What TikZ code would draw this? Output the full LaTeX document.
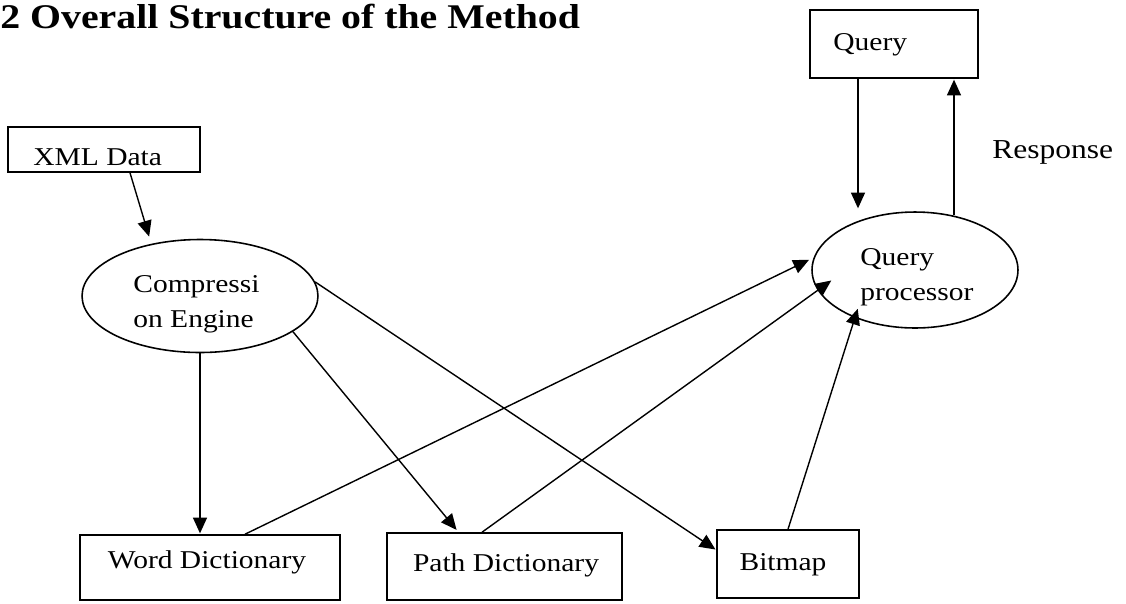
\documentclass[tikz,border=0pt]{standalone}
\usepackage{fontspec}
\setmainfont{Liberation Serif}[FakeStretch=1.15]
\usetikzlibrary{arrows.meta,calc,shapes.geometric}

\begin{document}
\begin{tikzpicture}[x=0.02cm,y=-0.02cm,
  every node/.style={font=\fontsize{14.6}{19.9}\selectfont},
  box/.style={draw,line width=0.9pt,rectangle,inner sep=0pt},
  oval/.style={draw,line width=0.9pt,ellipse,inner sep=0pt},
  txt/.style={inner sep=0pt,anchor=base west},
  ctxt/.style={inner sep=0pt,anchor=base},
  arr/.style={line width=0.8pt,-{Triangle[length=9pt,width=8pt]},shorten >=0.5pt}]
\useasboundingbox (0,0) rectangle (1126,603);

% heading
\node[txt,font=\fontsize{19.7}{24}\selectfont\bfseries] (title) at (0,28) {2 Overall Structure of the Method};

% boxes
\node[box,minimum width=3.84cm,minimum height=0.9cm] (xml) at (104,149.5) {};
\node[box,minimum width=3.36cm,minimum height=1.36cm] (qb) at (894,44) {};
\node[box,minimum width=5.2cm,minimum height=1.3cm] (wd) at (210,567.5) {};
\node[box,minimum width=4.7cm,minimum height=1.34cm] (pd) at (504.5,566.5) {};
\node[box,minimum width=2.84cm,minimum height=1.36cm] (bm) at (788,564) {};

% ellipses
\node[oval,minimum width=4.72cm,minimum height=2.26cm] (ce) at (200,296) {};
\node[oval,minimum width=4.12cm,minimum height=2.32cm] (qp) at (915,270) {};

% labels
\node[txt] (xmlt) at (33,165) {XML Data};
\node[txt] (qbt) at (833,50) {Query};
\node[txt,font=\fontsize{15.6}{19.9}\selectfont] (resp) at (992,158) {Response};
\node[txt] (qpt1) at (860,265) {Query};
\node[txt] (qpt2) at (860,300) {processor};
\node[txt] (cet1) at (133,292) {Compressi};
\node[txt] (cet2) at (133,327) {on Engine};
\node[ctxt] (wdt) at (207,568) {Word Dictionary};
\node[ctxt] (pdt) at (506,571) {Path Dictionary};
\node[ctxt] (bmt) at (783,570) {Bitmap};

% connectors
\draw[arr,shorten >=0.15cm] ($(xml.south)+(26,0)$) -- (ce.133);
\draw[arr] (ce.south) -- (ce.south |- wd.north);
\draw[arr,shorten >=0.06cm] (ce.339) -- ($(pd.north)+(-46,0)$);
\draw[arr] (ce.7) -- ($(bm.west)+(0,-14)$);
\draw[arr,shorten >=0.1cm] ($(wd.north)+(35,0)$) -- (qp.173);
\draw[arr] ($(pd.north)+(-22.5,0)$) -- ($(qp.center)+(-83,10)$);
\draw[arr] (bm.north) -- ($(qp.center)+(-57,38)$);
\draw[arr] ($(qb.south)+(-36,0)$) -- ($(qp.north)+(-57,-2)$);
\draw[arr] ($(qp.north)+(39,4)$) -- ($(qb.south)+(60,0)$);
\end{tikzpicture}
\end{document}
